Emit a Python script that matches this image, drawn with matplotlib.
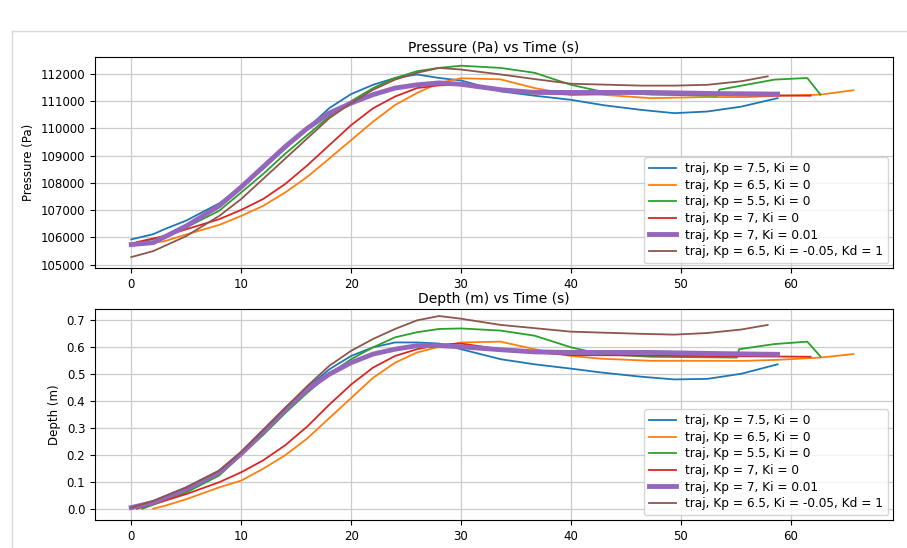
import numpy as np
import matplotlib.pyplot as plt

labels = ["traj, Kp = 7.5, Ki = 0", "traj, Kp = 6.5, Ki = 0", "traj, Kp = 5.5, Ki = 0",
          "traj, Kp = 7, Ki = 0", "traj, Kp = 7, Ki = 0.01", "traj, Kp = 6.5, Ki = -0.05, Kd = 1"]
colors = ["tab:blue", "tab:orange", "tab:green", "tab:red", "tab:purple", "tab:brown"]
widths = [1.3, 1.3, 1.3, 1.3, 3.5, 1.3]

# pressure traces (Pa)
t_blue = [0, 2, 3, 5, 8, 10, 12, 14, 16, 18, 20, 22, 24, 26, 28, 30, 33.6, 36.7, 40, 43, 46.4, 49.4, 52.4, 55.5, 58.8]
p_blue = [105930, 106120, 106300, 106620, 107250, 107850, 108520, 109260, 110000, 110740, 111260, 111600,
          111850, 111980, 111850, 111760, 111360, 111200, 111050, 110850, 110680, 110560, 110620, 110800, 111110]
t_orange = [0, 3, 5, 8, 10, 12, 14, 16, 18, 20, 22, 24, 26, 28, 30, 33.6, 36.7, 40, 42.7, 47.3, 52, 56, 59, 62.7, 65.7]
p_orange = [105700, 105860, 106110, 106460, 106790, 107160, 107650, 108220, 108890, 109570, 110250, 110860,
            111300, 111670, 111840, 111800, 111480, 111240, 111240, 111110, 111150, 111150, 111200, 111240, 111400]
t_green = [0, 3, 5, 8, 10, 12, 14, 16, 18, 20, 22, 24, 26, 28, 30, 33.6, 36.7, 40, 42.7, 47.3, 53.3, 53.5, 58.5, 61.5, 62.7]
p_green = [105740, 106050, 106370, 106980, 107650, 108330, 109070, 109750, 110440, 111000, 111480, 111850,
           112100, 112220, 112300, 112220, 112040, 111600, 111360, 111240, 111200, 111420, 111790, 111850, 111240]
t_red = [0.5, 3, 5, 8, 10, 12, 14, 16, 18, 20, 22, 24, 26, 28, 30, 33.6, 36.7, 40, 47, 54, 61.8]
p_red = [105830, 106050, 106300, 106670, 107010, 107410, 107960, 108640, 109380, 110120, 110740, 111170,
         111480, 111580, 111600, 111420, 111300, 111240, 111300, 111220, 111200]
t_purple = [0, 2, 5, 8, 10, 12, 14, 16, 18, 20, 22, 24, 26, 28, 30, 33.6, 36.7, 40, 47.3, 53, 58.8]
p_purple = [105740, 105810, 106420, 107160, 107850, 108590, 109330, 110000, 110560, 110930, 111240, 111480,
            111600, 111670, 111620, 111420, 111320, 111320, 111320, 111280, 111260]
t_brown = [0, 2, 5, 8, 10, 12, 14, 16, 18, 20, 22, 24, 26, 28, 30, 33.6, 36.7, 40, 46.4, 49.4, 52.4, 55.5, 57.9]
p_brown = [105280, 105500, 106050, 106790, 107410, 108150, 108890, 109630, 110370, 110930, 111420, 111790,
           112040, 112220, 112160, 111980, 111810, 111640, 111570, 111570, 111600, 111730, 111910]

# depth traces (m)
d_blue = [0, 0.016, 0.035, 0.066, 0.129, 0.204, 0.285, 0.373, 0.448, 0.516, 0.566, 0.598, 0.616, 0.616,
          0.612, 0.591, 0.554, 0.535, 0.519, 0.505, 0.489, 0.479, 0.481, 0.5, 0.535]
d_orange = [0, 0.01, 0.035, 0.079, 0.104, 0.148, 0.198, 0.26, 0.335, 0.41, 0.485, 0.541, 0.579, 0.6, 0.616,
            0.619, 0.591, 0.566, 0.556, 0.548, 0.548, 0.548, 0.552, 0.56, 0.573]
d_green = [0, 0.029, 0.06, 0.123, 0.198, 0.273, 0.354, 0.429, 0.498, 0.554, 0.598, 0.635, 0.654, 0.666, 0.668,
           0.66, 0.641, 0.598, 0.573, 0.563, 0.56, 0.591, 0.61, 0.619, 0.564]
d_red = [0, 0.029, 0.054, 0.098, 0.135, 0.179, 0.235, 0.304, 0.385, 0.46, 0.523, 0.566, 0.591, 0.608, 0.612,
         0.591, 0.579, 0.569, 0.568, 0.565, 0.563]
d_purple = [0.004, 0.023, 0.073, 0.135, 0.204, 0.285, 0.366, 0.441, 0.498, 0.541, 0.573, 0.591, 0.604, 0.604,
            0.6, 0.589, 0.581, 0.579, 0.579, 0.575, 0.572]
d_brown = [0.004, 0.029, 0.079, 0.141, 0.21, 0.291, 0.373, 0.454, 0.529, 0.585, 0.629, 0.666, 0.698, 0.714,
           0.704, 0.681, 0.669, 0.656, 0.648, 0.645, 0.651, 0.664, 0.681]

t_d = [[0, 2, 3, 5, 8, 10, 12, 14, 16, 18, 20, 22, 24, 26, 28, 30, 33.6, 36.7, 40, 42.7, 46.4, 49.4, 52.4, 55.5, 58.8],
       [2, 3, 5, 8, 10, 12, 14, 16, 18, 20, 22, 24, 26, 28, 30, 33.6, 36.7, 40, 42.7, 47.3, 52, 56, 59, 62.7, 65.7],
       [1, 3, 5, 8, 10, 12, 14, 16, 18, 20, 22, 24, 26, 28, 30, 33.6, 36.7, 40, 42.7, 47.3, 55.1, 55.3, 58.5, 61.5, 62.7],
       t_red, t_purple, t_brown]
t_p = [t_blue, t_orange, t_green, t_red, t_purple, t_brown]
pressures = [p_blue, p_orange, p_green, p_red, p_purple, p_brown]
depths = [d_blue, d_orange, d_green, d_red, d_purple, d_brown]

plt.rcParams['font.size'] = 8.5
fig = plt.figure(figsize=(9.07, 5.48), dpi=100)
W, H = 907, 548

# window edge of the screenshot
fig.add_artist(plt.Line2D([12 / W, 12 / W], [0, 1 - 31 / H], color='#d8d8d8', lw=1))
fig.add_artist(plt.Line2D([12 / W, 1], [1 - 31 / H, 1 - 31 / H], color='#d8d8d8', lw=1))

ax1 = fig.add_axes([95 / W, 1 - 268 / H, 798 / W, 211 / H])
ax2 = fig.add_axes([95 / W, 1 - 520 / H, 798 / W, 211 / H])

for i in range(6):
    ax1.plot(t_p[i], pressures[i], color=colors[i], lw=widths[i], label=labels[i])
    ax2.plot(t_d[i], depths[i], color=colors[i], lw=widths[i], label=labels[i])

ax1.set_title("Pressure (Pa) vs Time (s)", fontsize=10, pad=4)
ax1.set_ylabel("Pressure (Pa)", fontsize=8.5)
ax1.set_yticks(np.arange(105000, 112001, 1000))
ax1.set_ylim(104880, 112620)
ax2.set_title("Depth (m) vs Time (s)", fontsize=10, pad=4)
ax2.set_ylabel("Depth (m)", fontsize=8.5)
ax2.set_yticks(np.arange(0, 0.71, 0.1))
ax2.set_ylim(-0.042, 0.74)

for ax in (ax1, ax2):
    ax.set_xlim(-3.3, 69.3)
    ax.set_xticks(np.arange(0, 61, 10))
    ax.grid(True, color='#cccccc', lw=0.9)
    ax.tick_params(labelsize=8.5)
    ax.legend(loc='lower right', fontsize=8.7, handlelength=2.2, labelspacing=0.3,
              borderaxespad=0.4)

fig.savefig("out.png", dpi=100)
